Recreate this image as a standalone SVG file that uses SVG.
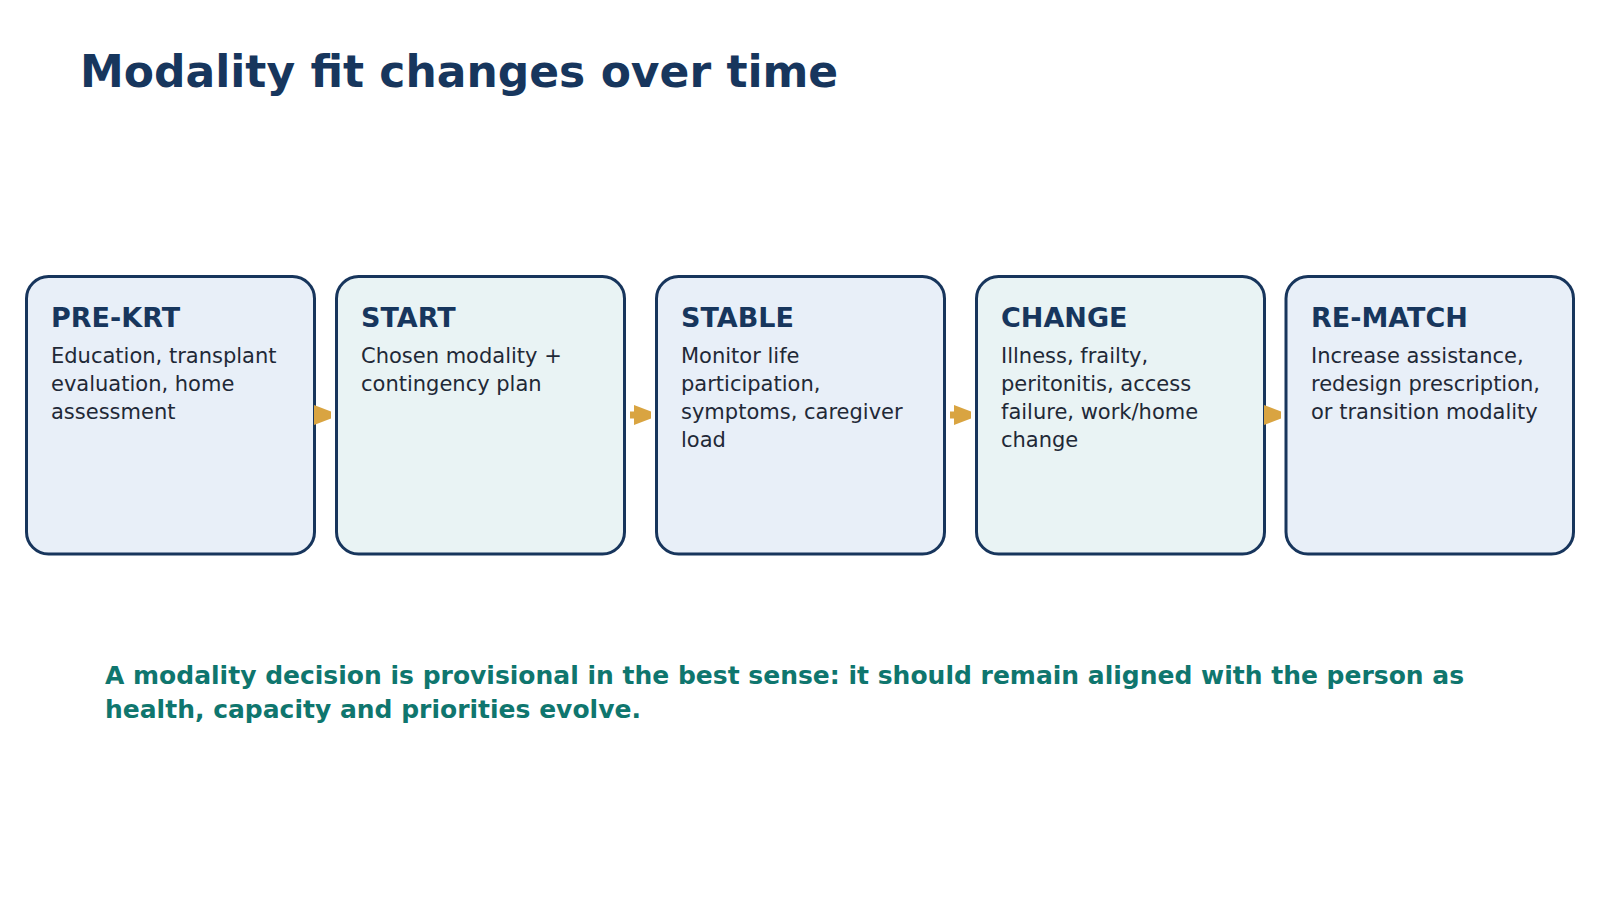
<svg xmlns="http://www.w3.org/2000/svg" width="1600" height="900" viewBox="0 0 1600 900">
<style>
.box{stroke:#17355C;stroke-width:3}
.b1{fill:#E8EFF8}
.b2{fill:#E9F3F4}
.ttl{font-family:"DejaVu Sans",sans-serif;font-weight:bold;font-size:27px;fill:#17365D}
.body{font-family:"DejaVu Sans",sans-serif;font-size:21px;fill:#1F2937}
.arr{fill:#D9A441}
</style>
<rect width="1600" height="900" fill="#FFFFFF"/>
<text x="80" y="87" font-family="DejaVu Sans, sans-serif" font-weight="bold" font-size="44" fill="#17365D">Modality fit changes over time</text>
<g id="node-prekrt">
<rect class="box b1" x="26.5" y="276.5" width="288" height="277.5" rx="22"/>
<text class="ttl" x="51" y="327">PRE-KRT</text>
<text class="body" x="51" y="363">Education, transplant</text>
<text class="body" x="51" y="391">evaluation, home</text>
<text class="body" x="51" y="419">assessment</text>
</g>
<g id="node-start">
<rect class="box b2" x="336.5" y="276.5" width="288" height="277.5" rx="22"/>
<text class="ttl" x="361" y="327">START</text>
<text class="body" x="361" y="363">Chosen modality +</text>
<text class="body" x="361" y="391">contingency plan</text>
</g>
<g id="node-stable">
<rect class="box b1" x="656.5" y="276.5" width="288" height="277.5" rx="22"/>
<text class="ttl" x="681" y="327">STABLE</text>
<text class="body" x="681" y="363">Monitor life</text>
<text class="body" x="681" y="391">participation,</text>
<text class="body" x="681" y="419">symptoms, caregiver</text>
<text class="body" x="681" y="447">load</text>
</g>
<g id="node-change">
<rect class="box b2" x="976.5" y="276.5" width="288" height="277.5" rx="22"/>
<text class="ttl" x="1001" y="327">CHANGE</text>
<text class="body" x="1001" y="363">Illness, frailty,</text>
<text class="body" x="1001" y="391">peritonitis, access</text>
<text class="body" x="1001" y="419">failure, work/home</text>
<text class="body" x="1001" y="447">change</text>
</g>
<g id="node-rematch">
<rect class="box b1" x="1286" y="276.5" width="287.5" height="277.5" rx="22"/>
<text class="ttl" x="1311" y="327">RE-MATCH</text>
<text class="body" x="1311" y="363">Increase assistance,</text>
<text class="body" x="1311" y="391">redesign prescription,</text>
<text class="body" x="1311" y="419">or transition modality</text>
</g>
<g id="connectors">
<path class="arr" d="M314,405 L331,411.5 L331,418.5 L314,425 Z"/>
<path class="arr" d="M630,411.5 H634 V405 L651,411.5 V418.5 L634,425 V418.5 H630 Z"/>
<path class="arr" d="M950,411.5 H954 V405 L971,411.5 V418.5 L954,425 V418.5 H950 Z"/>
<path class="arr" d="M1264,405 L1281,411.5 L1281,418.5 L1264,425 Z"/>
</g>
<text font-family="DejaVu Sans, sans-serif" font-weight="bold" font-size="25" fill="#0F766E">
<tspan x="105" y="684">A modality decision is provisional in the best sense: it should remain aligned with the person as</tspan>
<tspan x="105" y="718">health, capacity and priorities evolve.</tspan>
</text>
</svg>
